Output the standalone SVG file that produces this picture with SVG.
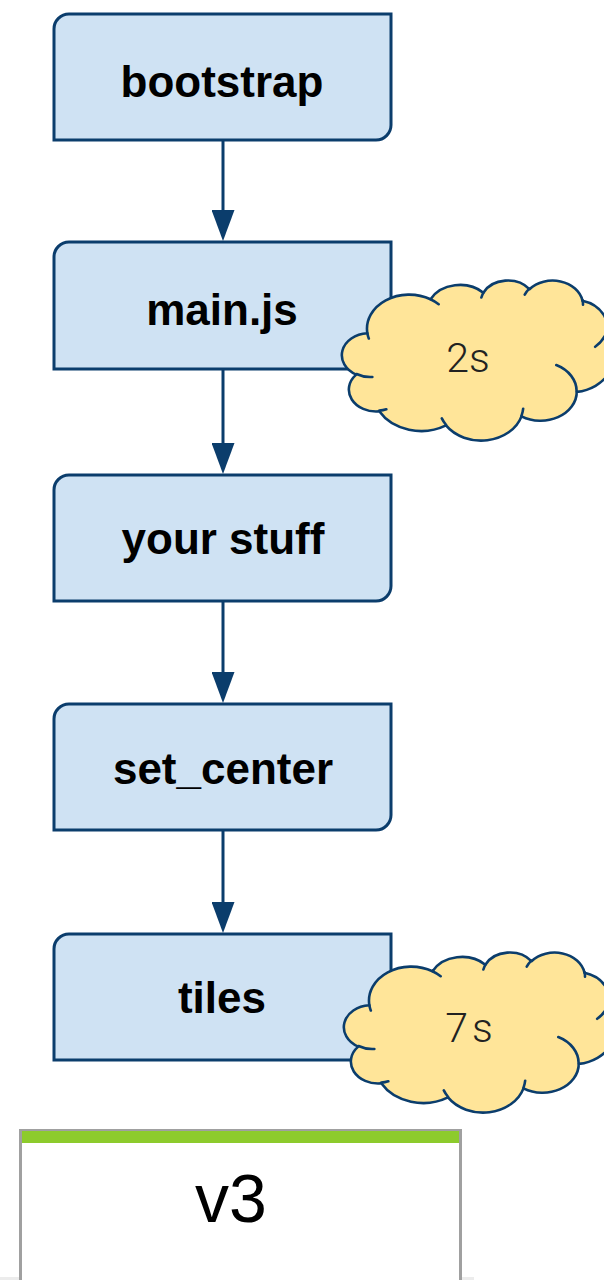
<svg xmlns="http://www.w3.org/2000/svg" width="604" height="1280" viewBox="0 0 604 1280">
<style>
.box{fill:#cfe2f3;stroke:#0b3d6c;stroke-width:3;}
.lbl{font-family:"Liberation Sans",Arial,sans-serif;font-weight:bold;font-size:44px;fill:#000;text-anchor:middle;}
.cloud{fill:#ffe599;stroke:#0b3d6c;stroke-width:2.6;stroke-linejoin:round;vector-effect:non-scaling-stroke;}
.curl{fill:none;stroke:#0b3d6c;stroke-width:2.6;stroke-linecap:round;vector-effect:non-scaling-stroke;}
.ctxt{font-family:Roboto,"Open Sans","Liberation Sans",sans-serif;font-weight:300;font-size:41px;fill:#222;text-anchor:middle;}
.conn{stroke:#0b3d6c;stroke-width:3;fill:none;}
</style>
<defs>
<marker id="ah" markerUnits="userSpaceOnUse" markerWidth="31" markerHeight="23" viewBox="0 0 31 23" refX="21" refY="11.5" orient="auto">
<path d="M0,0 L31,11.5 L0,23 Z" fill="#0b3d6c"/>
</marker>
</defs>
<rect width="604" height="1280" fill="#fff"/>

<g id="connectors">
<line class="conn" x1="223" y1="141" x2="223" y2="231" marker-end="url(#ah)"/>
<line class="conn" x1="223" y1="370" x2="223" y2="464" marker-end="url(#ah)"/>
<line class="conn" x1="223" y1="602" x2="223" y2="693" marker-end="url(#ah)"/>
<line class="conn" x1="223" y1="831" x2="223" y2="923" marker-end="url(#ah)"/>
</g>

<g id="bootstrap">
<path class="box" d="M54,29 A15,15 0 0 1 69,14 L391,14 L391,125 A15,15 0 0 1 376,140 L54,140 Z"/>
<text class="lbl" x="222" y="97">bootstrap</text>
</g>
<g id="mainjs">
<path class="box" d="M54,257 A15,15 0 0 1 69,242 L391,242 L391,354 A15,15 0 0 1 376,369 L54,369 Z"/>
<text class="lbl" x="222" y="325">main.js</text>
</g>
<g id="yourstuff">
<path class="box" d="M54,490 A15,15 0 0 1 69,475 L391,475 L391,586 A15,15 0 0 1 376,601 L54,601 Z"/>
<text class="lbl" x="223" y="554">your stuff</text>
</g>
<g id="setcenter">
<path class="box" d="M54,719 A15,15 0 0 1 69,704 L391,704 L391,815 A15,15 0 0 1 376,830 L54,830 Z"/>
<text class="lbl" x="223" y="784">set_center</text>
</g>
<g id="tiles">
<path class="box" d="M54,949 A15,15 0 0 1 69,934 L391,934 L391,1045 A15,15 0 0 1 376,1060 L54,1060 Z"/>
<text class="lbl" x="222" y="1013">tiles</text>
</g>

<g id="cloud2s">
<g transform="translate(343,280) scale(0.00625,0.0037037)">
<path class="cloud" d="M3900,14370 A6753,9190 0 0 1 14005,5202 A5333,7267 0 0 1 22458,3433 A4365,5945 0 0 1 29836,2483 A4857,6595 0 0 1 38321,5579 A5333,7273 0 0 1 41821,15463 A6775,9220 0 0 1 37406,30204 A5785,7867 0 0 1 28558,36815 A6752,9215 0 0 1 16483,39267 A7720,10543 0 0 1 5806,35471 A4360,5918 0 0 1 2114,25550 A4345,5945 0 0 1 3900,14370 Z"/>
<path class="curl" d="M4693,26177 A4345,5945 0 0 1 2160,25380 M6928,34899 A4360,5918 0 0 1 5820,35280 M16478,39090 A6752,9215 0 0 1 15810,37349 M28827,34751 A6752,9215 0 0 1 28560,36660 M34129,22954 A5785,7867 0 0 1 37380,30090 M41798,15354 A5333,7273 0 0 1 40350,18030 M38324,5426 A4857,6595 0 0 1 38400,6690 M29078,3952 A4857,6595 0 0 1 29820,2338 M22141,4720 A4365,5945 0 0 1 22500,3330 M14000,5192 A6753,9190 0 0 1 15302,6543 M4127,15789 A6753,9190 0 0 1 3900,14370"/>
</g>
<text class="ctxt" x="468" y="372">2s</text>
</g>
<g id="cloud7s">
<g transform="translate(345,952) scale(0.00625,0.0037037)">
<path class="cloud" d="M3900,14370 A6753,9190 0 0 1 14005,5202 A5333,7267 0 0 1 22458,3433 A4365,5945 0 0 1 29836,2483 A4857,6595 0 0 1 38321,5579 A5333,7273 0 0 1 41821,15463 A6775,9220 0 0 1 37406,30204 A5785,7867 0 0 1 28558,36815 A6752,9215 0 0 1 16483,39267 A7720,10543 0 0 1 5806,35471 A4360,5918 0 0 1 2114,25550 A4345,5945 0 0 1 3900,14370 Z"/>
<path class="curl" d="M4693,26177 A4345,5945 0 0 1 2160,25380 M6928,34899 A4360,5918 0 0 1 5820,35280 M16478,39090 A6752,9215 0 0 1 15810,37349 M28827,34751 A6752,9215 0 0 1 28560,36660 M34129,22954 A5785,7867 0 0 1 37380,30090 M41798,15354 A5333,7273 0 0 1 40350,18030 M38324,5426 A4857,6595 0 0 1 38400,6690 M29078,3952 A4857,6595 0 0 1 29820,2338 M22141,4720 A4365,5945 0 0 1 22500,3330 M14000,5192 A6753,9190 0 0 1 15302,6543 M4127,15789 A6753,9190 0 0 1 3900,14370"/>
</g>
<text class="ctxt" x="471" y="1042" letter-spacing="4">7s</text>
</g>

<g id="v3">
<rect x="0" y="1277" width="474" height="3" fill="#ececec"/>
<rect x="20.5" y="1130.5" width="440" height="160" fill="#fff" stroke="#a0a0a0" stroke-width="3"/>
<rect x="22" y="1131" width="437" height="12" fill="#8dcb2c"/>
<text x="231" y="1222" font-family="'Liberation Sans',Arial,sans-serif" font-size="68" text-anchor="middle" fill="#000">v3</text>
</g>
</svg>
